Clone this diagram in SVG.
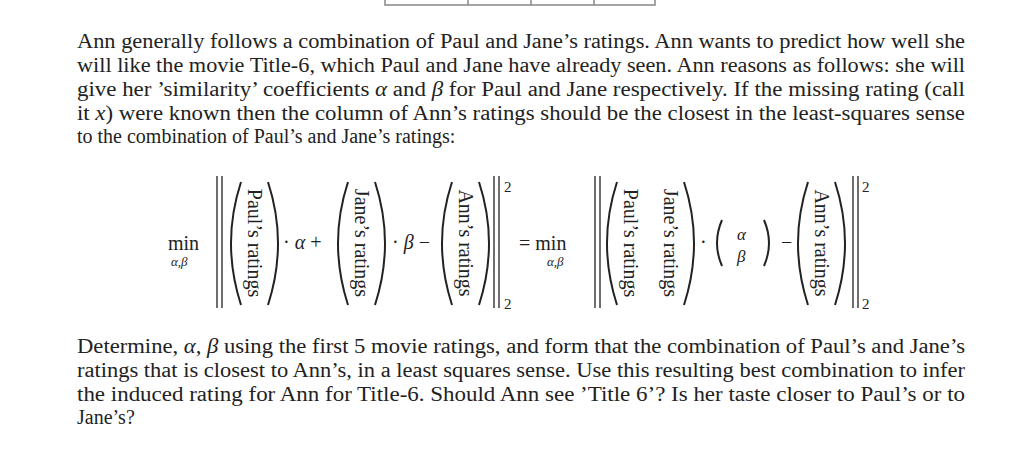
<svg xmlns="http://www.w3.org/2000/svg" width="1024" height="465" viewBox="0 0 1024 465">
<style>
text{font-family:"Liberation Serif","DejaVu Serif",serif;fill:#222;font-size:20px}
.sm{font-size:13px;font-style:italic}
.it{font-style:italic}
.p{fill:none;stroke:#222;stroke-width:2}
.b{stroke:#222;stroke-width:1.3}
</style>
<rect width="1024" height="465" fill="#fff"/>
<g id="table" fill="none" stroke="#888" stroke-width="1.5">
<path d="M385,0V5H655V0M468,0V5M531,0V5M594,0V5"/>
</g>
<g id="para1">
<text x="77" y="48" textLength="888" lengthAdjust="spacingAndGlyphs">Ann generally follows a combination of Paul and Jane’s ratings. Ann wants to predict how well she</text>
<text x="77" y="72" textLength="888" lengthAdjust="spacingAndGlyphs">will like the movie Title-6, which Paul and Jane have already seen. Ann reasons as follows: she will</text>
<text x="77" y="96" textLength="888" lengthAdjust="spacingAndGlyphs">give her ’similarity’ coefficients <tspan class="it">α</tspan> and <tspan class="it">β</tspan> for Paul and Jane respectively. If the missing rating (call</text>
<text x="77" y="120" textLength="888" lengthAdjust="spacingAndGlyphs">it <tspan class="it">x</tspan>) were known then the column of Ann’s ratings should be the closest in the least-squares sense</text>
<text x="77" y="143">to the combination of Paul’s and Jane’s ratings:</text>
</g>
<g id="equation">
<text x="168" y="250">min</text>
<text x="171" y="266" class="sm">α,β</text>
<path class="b" d="M217,176V308M222,176V308M494,176V308M499,176V308"/>
<text x="504" y="192" style="font-size:15px">2</text>
<text x="504" y="309" style="font-size:15px">2</text>
<path class="p" d="M241,182Q221,243 241,305M268,182Q288,243 268,305"/>
<text transform="translate(248,243) rotate(90)" text-anchor="middle">Paul’s ratings</text>
<text x="283" y="249">· <tspan class="it">α</tspan> +</text>
<path class="p" d="M348,182Q328,243 348,305M375,182Q395,243 375,305"/>
<text transform="translate(355,243) rotate(90)" text-anchor="middle">Jane’s ratings</text>
<text x="392" y="249">· <tspan class="it">β</tspan> −</text>
<path class="p" d="M452,182Q432,243 452,305M479,182Q499,243 479,305"/>
<text transform="translate(459,243) rotate(90)" text-anchor="middle">Ann’s ratings</text>
<text x="519" y="250">= min</text>
<text x="547" y="266" class="sm">α,β</text>
<path class="b" d="M595,176V308M600,176V308M853,176V308M858,176V308"/>
<text x="862" y="192" style="font-size:15px">2</text>
<text x="862" y="309" style="font-size:15px">2</text>
<path class="p" d="M617,182Q597,243 617,305M684,182Q704,243 684,305"/>
<text transform="translate(624,243) rotate(90)" text-anchor="middle">Paul’s ratings</text>
<text transform="translate(664,243) rotate(90)" text-anchor="middle">Jane’s ratings</text>
<text x="700" y="249">·</text>
<path class="p" d="M722,220Q712,243 722,266M764,220Q774,243 764,266"/>
<text x="737" y="240" class="it" style="font-size:17px">α</text>
<text x="737" y="262" class="it" style="font-size:17px">β</text>
<text x="781" y="249">−</text>
<path class="p" d="M808,182Q788,243 808,305M835,182Q855,243 835,305"/>
<text transform="translate(815,243) rotate(90)" text-anchor="middle">Ann’s ratings</text>
</g>
<g id="para2">
<text x="77" y="353" textLength="888" lengthAdjust="spacingAndGlyphs">Determine, <tspan class="it">α, β</tspan> using the first 5 movie ratings, and form that the combination of Paul’s and Jane’s</text>
<text x="77" y="377" textLength="888" lengthAdjust="spacingAndGlyphs">ratings that is closest to Ann’s, in a least squares sense. Use this resulting best combination to infer</text>
<text x="77" y="401" textLength="888" lengthAdjust="spacingAndGlyphs">the induced rating for Ann for Title-6. Should Ann see ’Title 6’? Is her taste closer to Paul’s or to</text>
<text x="77" y="424">Jane’s?</text>
</g>
</svg>
